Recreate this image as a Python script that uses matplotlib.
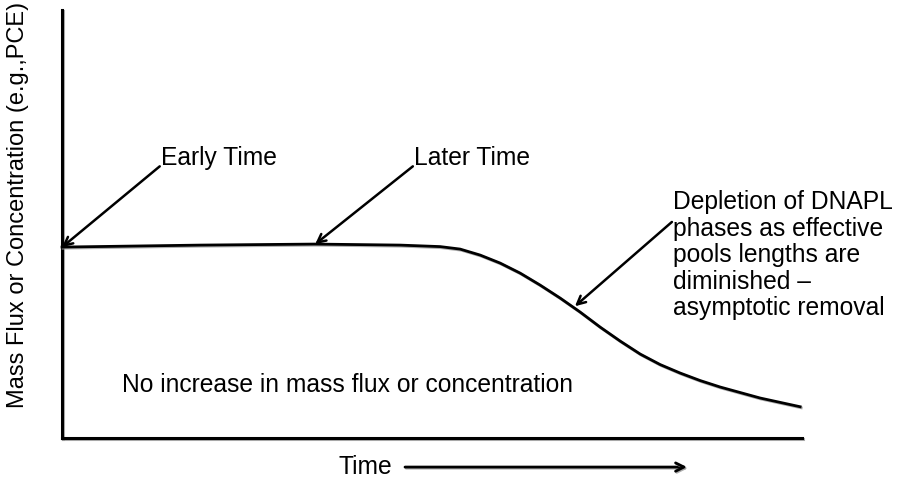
import matplotlib
matplotlib.use('Agg')
import matplotlib.pyplot as plt
import matplotlib.patheffects as pe
from matplotlib.patches import FancyArrowPatch

plt.rcParams['font.family'] = ['Liberation Sans', 'DejaVu Sans']

# curve (time 0-100, level 0-100)
t = [0, 18.65, 34.19, 45.68, 51.08, 53.78, 56.49, 59.19, 61.89, 64.59, 67.30,
     70.00, 72.70, 75.41, 78.11, 80.81, 83.51, 86.22, 88.92, 94.32, 99.73]
c = [44.63, 45.09, 45.33, 45.09, 44.74, 44.16, 42.76, 40.89, 38.55, 35.75, 32.71,
     29.44, 25.93, 22.66, 19.63, 17.17, 15.19, 13.43, 11.92, 9.35, 7.31]

labels = ['Early Time', 'Later Time',
          'Depletion of DNAPL\nphases as effective\npools lengths are\ndiminished \u2013\nasymptotic removal']
tips = [(0, 44.6), (34.2, 45.3), (69.3, 30.8)]
starts = [(13.2, 63.5), (47.4, 63.5), (82.4, 50.5)]

shadow = [pe.SimpleLineShadow(offset=(0.8, -0.8), shadow_color='#999999', alpha=0.8), pe.Normal()]

fig = plt.figure(figsize=(9.07, 4.84), dpi=100)
ax = fig.add_axes([0.0684, 0.095, 0.816, 0.884])
ax.set_xlim(0, 100)
ax.set_ylim(0, 100)
ax.axis('off')

ax.plot([0, 0], [0, 100], color='black', lw=2.2, clip_on=False, path_effects=shadow)
ax.plot([0, 100], [0, 0], color='black', lw=2.2, clip_on=False, path_effects=shadow)
ax.plot(t, c, color='black', lw=2.0, clip_on=False, solid_joinstyle='round',
        path_effects=shadow)

for tip, st in zip(tips, starts):
    ax.annotate('', xy=tip, xytext=st,
                arrowprops=dict(arrowstyle='->', lw=1.8, color='black',
                                mutation_scale=15, shrinkA=0, shrinkB=0))

ax.text(13.4, 65.4, labels[0], ha='left', va='center', fontsize=17.7)
ax.text(47.6, 65.4, labels[1], ha='left', va='center', fontsize=17.7)
ax.text(82.6, 57.9, labels[2], ha='left', va='top', fontsize=17.7, linespacing=1.13)

ax.text(8.1, 12.4, 'No increase in mass flux or concentration', ha='left', va='center',
        fontsize=17.7)

fig.text(0.020, 0.576, 'Mass Flux or Concentration (e.g.,PCE)', rotation=90,
         ha='center', va='center', fontsize=17)
fig.text(0.373, 0.035, 'Time', ha='left', va='center', fontsize=17.7)
fig.patches.append(FancyArrowPatch(
    (405 / 907, 0.035), (687 / 907, 0.035), transform=fig.transFigure,
    arrowstyle='->', lw=2.0, mutation_scale=15, color='black',
    shrinkA=0, shrinkB=0, path_effects=shadow))

fig.savefig('out.png', dpi=100, facecolor='white')
